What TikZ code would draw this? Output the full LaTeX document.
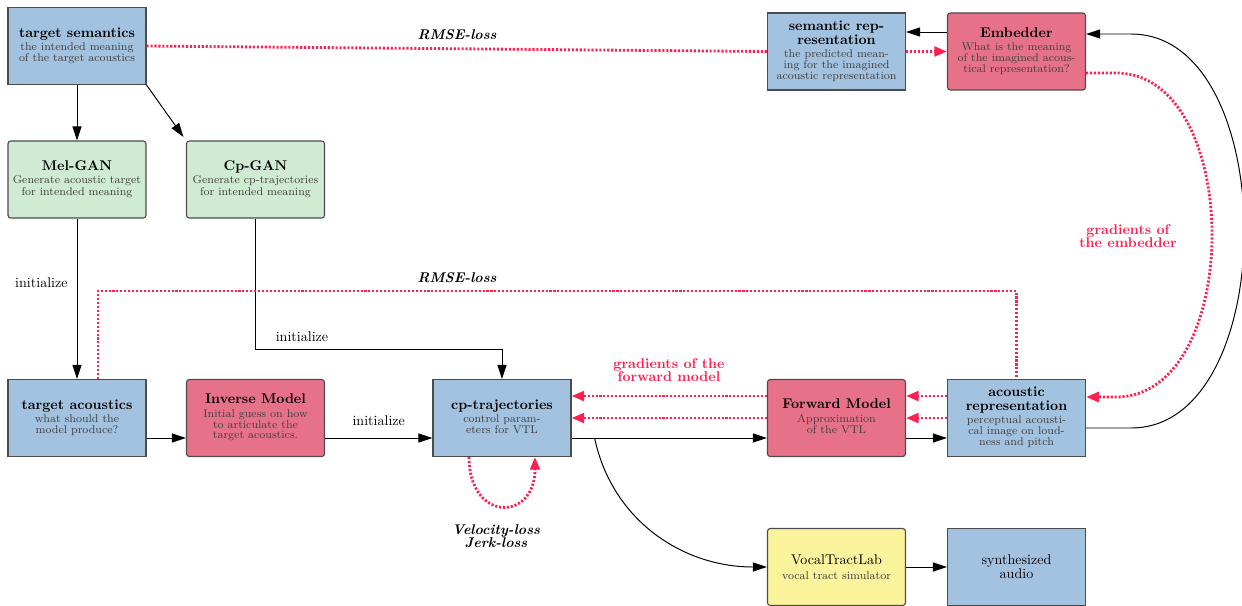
\documentclass[tikz,border=0pt]{standalone}
\usepackage{amsmath}
\usepackage{xcolor}
\usetikzlibrary{arrows.meta,calc}

\definecolor{boxblue}{HTML}{A3C2E0}
\definecolor{boxgreen}{HTML}{CFEBD2}
\definecolor{boxred}{HTML}{E8718A}
\definecolor{boxyellow}{HTML}{FAF39C}
\definecolor{gradred}{HTML}{FF2050}

\newcommand{\ttl}[1]{{\bfseries\renewcommand{\arraystretch}{0.8}\begin{tabular}{@{}c@{}}#1\end{tabular}}}
\newcommand{\desc}[1]{{\footnotesize\color{black!75}\renewcommand{\arraystretch}{0.8}\begin{tabular}{@{}c@{}}#1\end{tabular}}}

\begin{document}
\begin{tikzpicture}[x=0.025cm,y=-0.025cm,
  blk/.style={draw=black!70, line width=0.8pt, minimum width=3.45cm, minimum height=1.925cm, inner sep=1pt, align=center},
  sem/.style={blk, fill=boxblue},
  gan/.style={blk, fill=boxgreen, rounded corners=2pt},
  net/.style={blk, fill=boxred, rounded corners=2pt},
  sim/.style={blk, fill=boxyellow, rounded corners=2pt},
  flow/.style={-{Triangle[length=10pt,width=6.5pt]}, line width=0.7pt},
  grad/.style={gradred, line width=2pt, dash pattern=on 1.5pt off 1.3pt},
  gradarrow/.style={grad, -{Triangle[length=9pt,width=7pt]}},
  loss/.style={font=\bfseries\itshape, align=center},
  gradlabel/.style={gradred, font=\bfseries, align=center}]
 \useasboundingbox (0,0) rectangle (1242,605);

 % top row
 \node[sem] (ts) at (77,46) {\ttl{target semantics}\\[0pt]\desc{the intended meaning\\of the target acoustics}};
 \node[sem] (semrep) at (836.5,51.5) {\ttl{semantic rep-\\resentation}\\[0pt]\desc{the predicted mean-\\ing for the imagined\\acoustic representation}};
 \node[net] (emb) at (1016.5,51.5) {\ttl{Embedder}\\[0pt]\desc{What is the meaning\\of the imagined acous-\\tical representation?}};

 % GANs
 \node[gan] (melgan) at (77,179.5) {\ttl{Mel-GAN}\\[0pt]\desc{Generate acoustic target\\for intended meaning}};
 \node[gan] (cpgan) at (255.5,179.5) {\ttl{Cp-GAN}\\[0pt]\desc{Generate cp-trajectories\\for intended meaning}};

 % main row
 \node[sem] (ta) at (77,418) {\ttl{target acoustics}\\[0pt]\desc{what should the\\model produce?}};
 \node[net] (inv) at (255.5,418) {\ttl{Inverse Model}\\[0pt]\desc{Initial guess on how\\to articulate the\\target acoustics.}};
 \node[sem] (cpt) at (502,418) {\ttl{cp-trajectories}\\[0pt]\desc{control param-\\eters for VTL}};
 \node[net] (fwd) at (836.5,418) {\ttl{Forward Model}\\[0pt]\desc{Approximation\\of the VTL}};
 \node[sem] (ar) at (1016.5,418) {\ttl{acoustic\\representation}\\[0pt]\desc{perceptual acousti-\\cal image on loud-\\ness and pitch}};

 % synthesis
 \node[sim] (vtl) at (836.5,567) {VocalTractLab\\[-1pt]{\footnotesize\color{black!75}vocal tract simulator}};
 \node[sem] (synth) at (1016.5,567) {synthesized\\[-2pt]audio};

 % forward flow
 \draw[flow] (ts.south) -- (melgan.north);
 \draw[flow, shorten >=3pt] (ts.south east) -- (cpgan.north west);
 \draw[flow] (melgan.south) -- node[left=3pt, pos=0.4] (initA) {initialize} (ta.north);
 \coordinate (cpbend) at ($(cpt.north)+(0,-29)$);
 \draw[flow] (cpgan.south) |- (cpbend) -- (cpt.north);
 \node (initB) at (302,337) {initialize};
 \draw[flow] ($(ta.east)+(0,20)$) -- ($(inv.west)+(0,20)$);
 \draw[flow] ($(inv.east)+(0,20)$) -- node[above=5pt] (initC) {initialize} ($(cpt.west)+(0,20)$);
 \draw[flow] ($(cpt.east)+(0,20)$) -- ($(fwd.west)+(0,20)$);
 \draw[flow] ($(fwd.east)+(0,20)$) -- ($(ar.west)+(0,20)$);
 \coordinate (split) at ($(cpt.east)+(23,20)$);
 \draw[flow] (split) to[out=-78,in=180] (vtl.west);
 \draw[flow] (vtl.east) -- (synth.west);
 \draw[flow] ($(emb.west)+(0,-19.5)$) -- ($(semrep.east)+(0,-19.5)$);
 \coordinate (arout) at ($(ar.east)+(45,10)$);
 \coordinate (embin) at ($(emb.east)+(45,-17.5)$);
 \draw[flow] ($(ar.east)+(0,10)$) -- (arout) .. controls (1282,428) and (1282,34) .. (embin) -- ($(emb.east)+(0,-17.5)$);

 % losses and gradients
 \draw[grad] (ts.east) -- (semrep.west);
 \node[loss] (rmseA) at (457,35) {RMSE-loss};
 \draw[gradarrow] (semrep.east) -- (emb.west);
 \coordinate (rmsecorner) at (98,291);
 \draw[grad] ($(ta.north)+(21,0)$) -- (rmsecorner) -| (ar.north);
 \node[loss] (rmseB) at (457,278) {RMSE-loss};
 \draw[gradarrow] ($(ar.west)+(0,-22)$) -- ($(fwd.east)+(0,-22)$);
 \draw[gradarrow] (ar.west) -- (fwd.east);
 \draw[gradarrow] ($(fwd.west)+(0,-22)$) -- ($(cpt.east)+(0,-22)$);
 \draw[gradarrow] (fwd.west) -- (cpt.east);
 \node[gradlabel] (gradfwd) at (669,370) {gradients of the\\[-3pt]forward model};
 \coordinate (embout) at ($(emb.east)+(30,21.5)$);
 \coordinate (arin) at ($(ar.east)+(30,-21)$);
 \draw[gradarrow] ($(emb.east)+(0,21.5)$) -- (embout) .. controls (1244,73) and (1244,397) .. (arin) -- ($(ar.east)+(0,-21)$);
 \node[gradlabel] (grademb) at (1128,236) {gradients of\\[-3pt]the embedder};
 \draw[gradarrow] ($(cpt.south)+(-33,0)$) .. controls +(0,65) and +(0,65) .. ($(cpt.south)+(33,0)$);
 \node[loss] (smooth) at (496,536) {Velocity-loss\\[-3pt]Jerk-loss};
\end{tikzpicture}
\end{document}
